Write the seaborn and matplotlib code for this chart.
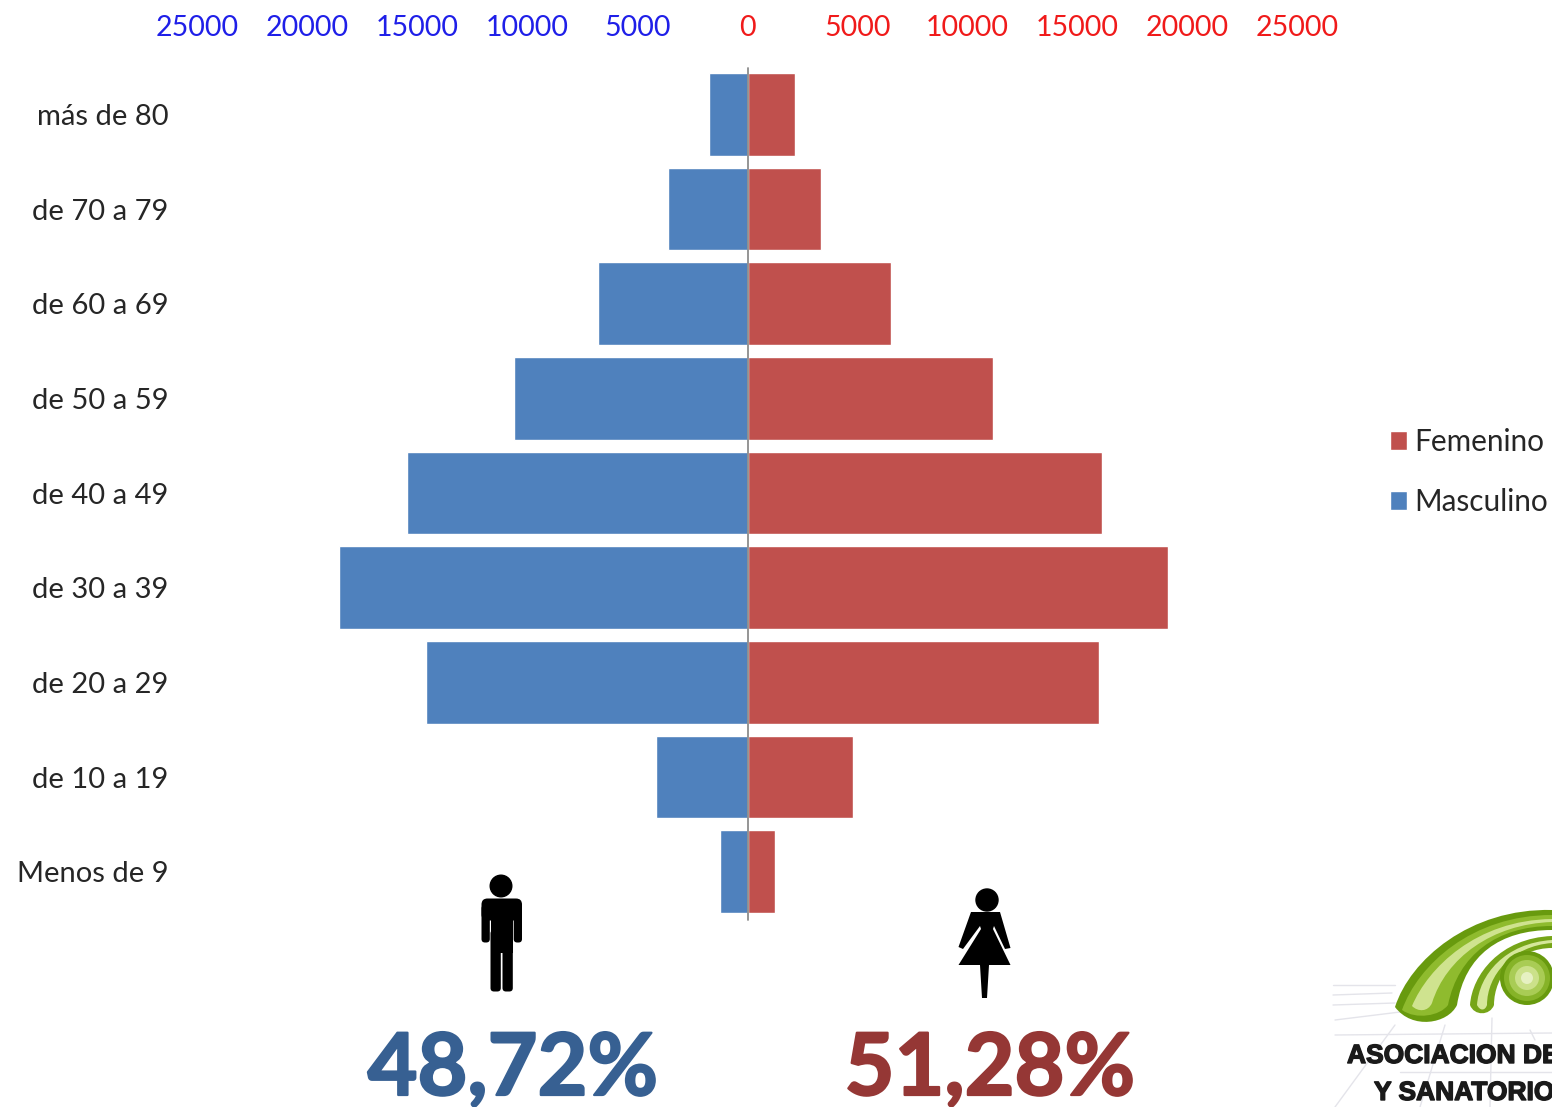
import matplotlib
matplotlib.use("Agg")
import matplotlib.pyplot as plt
import matplotlib.patheffects as pe
from matplotlib.patches import Circle, Polygon, PathPatch, FancyBboxPatch, Patch
from matplotlib.path import Path
import pandas as pd
import seaborn as sns

age_groups = ["más de 80", "de 70 a 79", "de 60 a 69", "de 50 a 59", "de 40 a 49",
              "de 30 a 39", "de 20 a 29", "de 10 a 19", "Menos de 9"]
masculino = [1740, 3600, 6820, 10620, 15480, 18570, 14620, 4150, 1240]
femenino = [2140, 3330, 6510, 11160, 16090, 19100, 15950, 4770, 1230]
tick_values = [-25000, -20000, -15000, -10000, -5000, 0, 5000, 10000, 15000, 20000, 25000]
tick_labels = ["25000", "20000", "15000", "10000", "5000", "0", "5000", "10000", "15000", "20000", "25000"]
share_labels = ["48,72%", "51,28%"]

BLUE, RED = "#4F81BD", "#C0504D"
W, H = 1552, 1107

sns.set_theme(style="white")
plt.rcParams["font.family"] = ["Lato", "DejaVu Sans"]

fig = plt.figure(figsize=(W / 100, H / 100), dpi=100, facecolor="white")
ax = fig.add_axes([197.6 / W, 1 - 919 / H, 1100 / W, 852 / H])

df = pd.DataFrame({
    "edad": age_groups * 2,
    "valor": [-v for v in masculino] + femenino,
    "sexo": ["Masculino"] * 9 + ["Femenino"] * 9,
})
sns.barplot(data=df, y="edad", x="valor", hue="sexo", order=age_groups, dodge=False,
            palette={"Masculino": BLUE, "Femenino": RED}, width=0.875, saturation=1,
            legend=False, ax=ax)

ax.set_xlim(-25000, 25000)
ax.set_ylim(8.5, -0.5)
ax.set_xlabel("")
ax.set_ylabel("")
ax.xaxis.tick_top()
ax.set_xticks(tick_values, tick_labels)
ax.tick_params(axis="x", length=0, labelsize=20.5, pad=19)
for v, t in zip(tick_values, ax.get_xticklabels()):
    t.set_color("#1F1FE8" if v < 0 else "#F01A1A")
ax.tick_params(axis="y", length=0, labelsize=21, labelcolor="#262626", pad=0)
ax.set_yticks(range(9), age_groups)
for lab in ax.get_yticklabels():
    lab.set_x(-0.0265)
for s in ax.spines.values():
    s.set_visible(False)
ax.axvline(0, ymin=-0.001, ymax=0.999, color="#8C8C8C", lw=1.3, zorder=5, clip_on=False)
ax.patch.set_alpha(0)

fig.legend(handles=[Patch(facecolor=RED, label="Femenino"), Patch(facecolor=BLUE, label="Masculino")],
           loc="center left", bbox_to_anchor=(1389.5 / W, 1 - 472 / H), frameon=False,
           fontsize=21.4, handlelength=0.58, handleheight=0.58, handletextpad=0.25,
           labelspacing=1.07, labelcolor="#262626", borderpad=0, borderaxespad=0)

# Overlay in pixel space: pictograms, totals, logo
ov = fig.add_axes([0, 0, 1, 1])
ov.set_xlim(0, W)
ov.set_ylim(H, 0)
ov.axis("off")
ov.patch.set_alpha(0)

# man
ov.add_patch(Circle((501, 886), 10.8, color="black"))
ov.add_patch(FancyBboxPatch((481.5, 898.5), 40.5, 22, boxstyle="round,pad=0,rounding_size=6", fc="black", ec="none"))
ov.add_patch(FancyBboxPatch((481.5, 905), 8.3, 37.5, boxstyle="round,pad=0,rounding_size=3.5", fc="black", ec="none"))
ov.add_patch(FancyBboxPatch((513.7, 905), 8.3, 37.5, boxstyle="round,pad=0,rounding_size=3.5", fc="black", ec="none"))
ov.add_patch(Polygon([(490.5, 900), (512.8, 900), (512.8, 953), (490.5, 953)], fc="black", ec="none"))
ov.add_patch(FancyBboxPatch((490.5, 930), 10.3, 61.5, boxstyle="round,pad=0,rounding_size=3.5", fc="black", ec="none"))
ov.add_patch(FancyBboxPatch((502.5, 930), 10.3, 61.5, boxstyle="round,pad=0,rounding_size=3.5", fc="black", ec="none"))

# woman
ov.add_patch(Circle((987, 900), 11, color="black"))
ov.add_patch(Polygon([(971, 912), (1000, 912), (1010.5, 948), (1005, 949), (994, 926), (993, 929),
                      (1010.5, 965), (989, 965), (987, 998), (982, 998), (980, 965), (958.5, 965),
                      (981, 929), (980, 926), (963, 949), (958.5, 947)], fc="black", ec="none"))

bold_edge = lambda c, w=1.6: [pe.withStroke(linewidth=w, foreground=c)]
ov.text(513, 1095, share_labels[0], ha="center", va="baseline", fontsize=62, fontweight="bold",
        color="#376092", path_effects=bold_edge("#376092"))
ov.text(990, 1095, share_labels[1], ha="center", va="baseline", fontsize=62, fontweight="bold",
        color="#953735", path_effects=bold_edge("#953735"))

# logo (faint background lines, green arcs, lettering)
for x0, y0, x1, y1 in [(1333, 985, 1395, 985), (1333, 995, 1392, 993), (1333, 1005, 1395, 1003),
                       (1335, 1035, 1552, 1033), (1335, 1020, 1400, 1012), (1335, 1107, 1395, 1025),
                       (1420, 1107, 1445, 1025), (1490, 1107, 1492, 1018), (1400, 1072, 1552, 1072),
                       (1530, 1030, 1535, 1040)]:
    ov.plot([x0, x1], [y0, y1], color="#E4E4EA", lw=1, zorder=1)

ARCH_CODES = [Path.MOVETO, Path.CURVE4, Path.CURVE4, Path.CURVE4, Path.LINETO, Path.CURVE4, Path.CURVE4,
              Path.CURVE4, Path.CURVE4, Path.CURVE4, Path.CURVE4, Path.CLOSEPOLY]


def arch(pts, fc, z=2):
    ov.add_patch(PathPatch(Path(pts, ARCH_CODES), fc=fc, ec="none", zorder=z))


arch([(1395, 1007), (1410, 960), (1470, 908), (1552, 910), (1552, 930), (1500, 930), (1465, 955),
      (1457, 1005), (1448, 1024), (1412, 1030), (1395, 1007), (1395, 1007)], "#689A0E")
arch([(1402, 1010), (1418, 965), (1472, 915), (1552, 915), (1552, 926), (1497, 926), (1458, 955),
      (1448, 1005), (1440, 1016), (1416, 1020), (1402, 1010), (1402, 1010)], "#8FBB2E")
arch([(1412, 1006), (1428, 968), (1476, 920), (1552, 919), (1552, 922), (1492, 924), (1446, 958),
      (1432, 1003), (1428, 1012), (1418, 1012), (1412, 1006), (1412, 1006)], "#CFE38F")
arch([(1470, 1005), (1472, 975), (1500, 938), (1552, 936), (1552, 948), (1518, 948), (1494, 975),
      (1494, 1005), (1490, 1016), (1474, 1016), (1470, 1005), (1470, 1005)], "#76A518")
arch([(1477, 1005), (1479, 975), (1505, 943), (1552, 940), (1552, 943), (1512, 946), (1487, 975),
      (1487, 1005), (1485, 1011), (1480, 1011), (1477, 1005), (1477, 1005)], "#D5E79A")
for r, c in [(27, "#689A0E"), (23, "#86B328"), (18, "#A9CC55"), (12, "#CBE18A"), (6, "#E6F1C2")]:
    ov.add_patch(Circle((1527, 978), r, fc=c, ec="none", zorder=3))

for x, y, s in [(1347, 1063, "ASOCIACION DE"), (1374, 1100, "Y SANATORIO")]:
    ov.text(x, y, s, fontsize=19, fontweight="bold", family="Liberation Sans", color="#1A1A1A",
            zorder=4, va="baseline", clip_on=True, path_effects=bold_edge("#1A1A1A", 1.0))

fig.savefig("out.png", dpi=100, facecolor="white")
